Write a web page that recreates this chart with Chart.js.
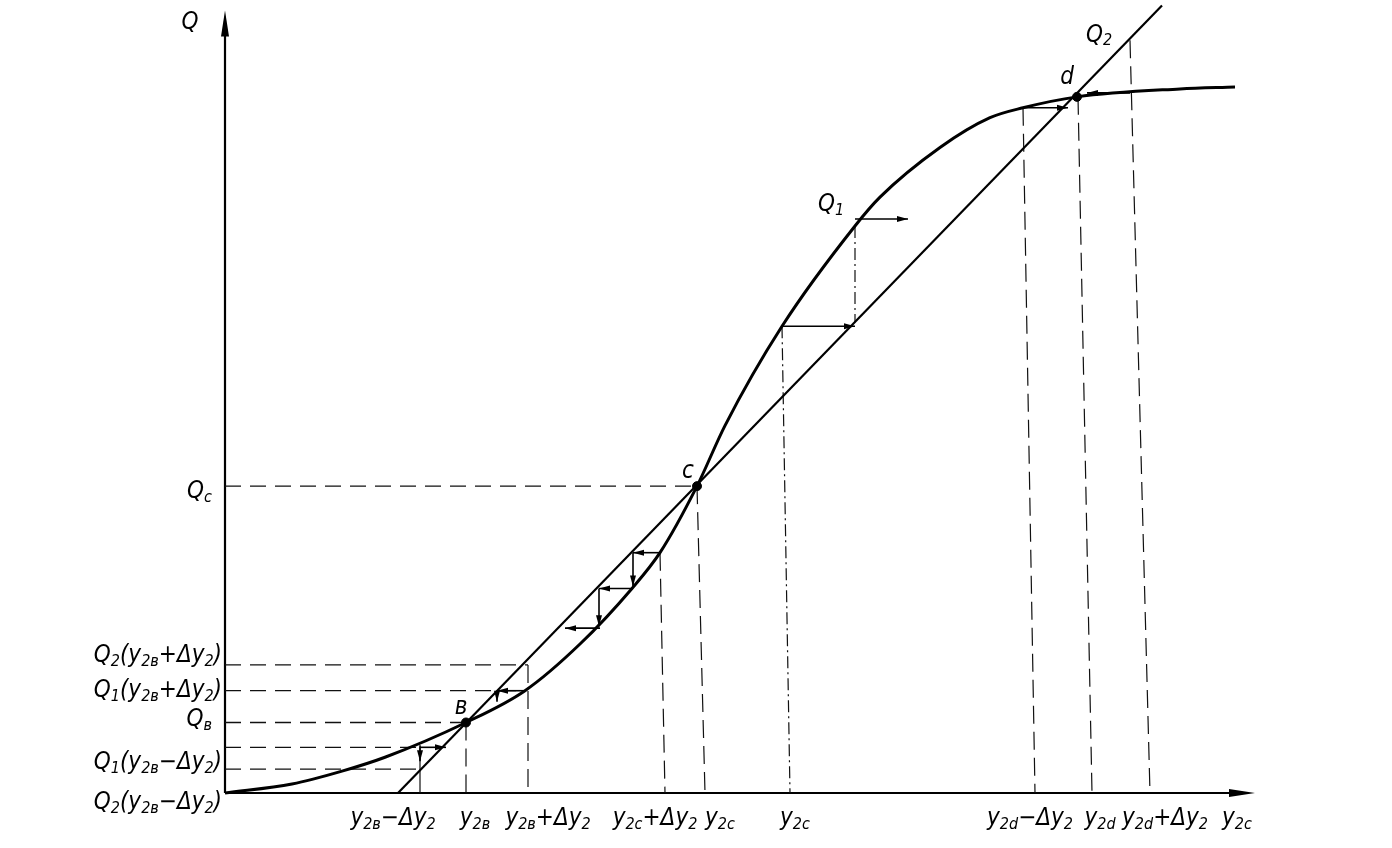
<!DOCTYPE html>
<html>
<head>
<meta charset="utf-8">
<script src="https://cdn.jsdelivr.net/npm/chart.js@4.4.1/dist/chart.umd.min.js"></script>
<style>
  body { margin: 0; background: #fff; }
  #wrap { width: 1392px; height: 848px; }
</style>
</head>
<body>
<div id="wrap"><canvas id="chart" width="1392" height="848"></canvas></div>
<script>
// curve Q1 (S-shaped)
const q1X = [0, 6.7, 11.7, 16, 24.1, 30, 35.5, 40.7, 43.5, 47.2, 50, 55.7, 63, 65.5, 71.5, 76.5, 79.8, 85.2, 95.5, 101];
const q1Y = [0, 0.9, 2.2, 3.6, 7.1, 10.3, 15.0, 20.6, 24.2, 30.9, 37.0, 47.0, 57.1, 60.0, 65.0, 68.0, 69.0, 70.1, 70.9, 71.1];
// straight line Q2
const q2X = [17.3, 93.7];
const q2Y = [0, 79.3];
// intersection points b, c, d
const crossX = [24.1, 47.2, 85.2];
const crossY = [7.1, 30.9, 70.1];

// guide lines [x0, y0, x1, y1]
const dashedH = [
  [0, 30.9, 47.2, 30.9],
  [0, 12.9, 30.3, 12.9],
  [0, 10.3, 30, 10.3],
  [0, 7.1, 24.1, 7.1],
  [0, 4.6, 19.5, 4.6],
  [0, 2.4, 19.5, 2.4]
];
const dashedV = [
  [24.1, 7.1, 24.1, 0],
  [30.3, 12.9, 30.3, 0],
  [43.5, 24.2, 44, 0],
  [47.2, 30.9, 48, 0],
  [79.8, 69.0, 81, 0],
  [85.3, 70.1, 86.7, 0],
  [90.5, 75.8, 92.5, 0]
];
const solidThin = [
  [19.5, 4.6, 19.5, 0]
];
const dashDot = [
  [55.7, 47.0, 56.5, 0],
  [63, 57.1, 63, 47.4]
];
// arrows [fromX, fromY, toX, toY]
const arrows = [
  [55.7, 47.0, 63, 47.0],
  [63, 57.8, 68.3, 57.8],
  [79.8, 69.0, 84.3, 69.0],
  [90.5, 70.5, 86.2, 70.5],
  [43.5, 24.2, 40.8, 24.2],
  [40.8, 24.2, 40.8, 20.8],
  [40.7, 20.6, 37.4, 20.6],
  [37.4, 20.6, 37.4, 16.8],
  [37.5, 16.6, 34, 16.6],
  [30, 10.3, 27.2, 10.3],
  [27.2, 10.3, 27.2, 9.2],
  [19.5, 4.6, 22.1, 4.6],
  [19.5, 4.8, 19.5, 3.2]
];

// tick labels on Q axis
const qTickVals = [77.6, 30.3, 13.8, 10.3, 7.4, 3.0, -1.0];
const qTickText = ['Q', 'Q_{c}', 'Q_{2}(y_{2в}+Δy_{2})', 'Q_{1}(y_{2в}+Δy_{2})', 'Q_{в}', 'Q_{1}(y_{2в}−Δy_{2})', 'Q_{2}(y_{2в}−Δy_{2})'];
// tick labels on y2c axis
const yTickVals = [16.8, 25, 32.3, 43, 49.5, 57, 80.5, 87.5, 94, 101.2];
const yTickText = ['y_{2в}−Δy_{2}', 'y_{2в}', 'y_{2в}+Δy_{2}', 'y_{2c}+Δy_{2}', 'y_{2c}', 'y_{2c}', 'y_{2d}−Δy_{2}', 'y_{2d}', 'y_{2d}+Δy_{2}', 'y_{2c}'];
// curve and point names
const noteX = [23.6, 46.3, 84.2, 60.6, 87.4];
const noteY = [8.6, 32.3, 72.0, 59.2, 76.3];
const noteText = ['в', 'c', 'd', 'Q_{1}', 'Q_{2}'];

const FONT = '"Liberation Sans Narrow", "DejaVu Sans Condensed", "Liberation Sans", sans-serif';

function parts(str) {
  const out = [];
  const re = /_\{([^}]*)\}|([^_]+)/g;
  let m;
  while ((m = re.exec(str)) !== null) {
    if (m[1] !== undefined) out.push([m[1], true]);
    else out.push([m[2], false]);
  }
  return out;
}

function richText(ctx, str, x, y, align) {
  const list = parts(str);
  let w = 0;
  list.forEach(p => {
    ctx.font = p[1] ? 'italic 16px ' + FONT : 'italic 24px ' + FONT;
    w += ctx.measureText(p[0]).width;
  });
  let cx = align === 'right' ? x - w : align === 'center' ? x - w / 2 : x;
  list.forEach(p => {
    ctx.font = p[1] ? 'italic 16px ' + FONT : 'italic 24px ' + FONT;
    ctx.fillText(p[0], cx, p[1] ? y + 6 : y);
    cx += ctx.measureText(p[0]).width;
  });
}

function head(ctx, x0, y0, x1, y1, len, wid) {
  const a = Math.atan2(y1 - y0, x1 - x0);
  ctx.beginPath();
  ctx.moveTo(x1, y1);
  ctx.lineTo(x1 - len * Math.cos(a) + wid * Math.sin(a), y1 - len * Math.sin(a) - wid * Math.cos(a));
  ctx.lineTo(x1 - len * Math.cos(a) - wid * Math.sin(a), y1 - len * Math.sin(a) + wid * Math.cos(a));
  ctx.closePath();
  ctx.fill();
}

function segs(list, width, dash) {
  return list.map(s => ({
    data: [{ x: s[0], y: s[1] }, { x: s[2], y: s[3] }],
    showLine: true,
    borderColor: '#111',
    borderWidth: width,
    borderDash: dash,
    pointRadius: 0
  }));
}

const sketch = {
  id: 'sketch',
  beforeDatasetsDraw(chart) {
    const ctx = chart.ctx;
    const xs = chart.scales.x, ys = chart.scales.y;
    const ox = xs.getPixelForValue(0), oy = ys.getPixelForValue(0);
    const tx = xs.getPixelForValue(103), ty = ys.getPixelForValue(78.8);
    ctx.save();
    ctx.strokeStyle = '#000';
    ctx.fillStyle = '#000';
    ctx.lineWidth = 2.2;
    ctx.beginPath();
    ctx.moveTo(ox, oy); ctx.lineTo(ox, ty + 10);
    ctx.moveTo(ox, oy); ctx.lineTo(tx - 10, oy);
    ctx.stroke();
    head(ctx, ox, oy, ox, ty, 26, 4);
    head(ctx, ox, oy, tx, oy, 26, 4);
    ctx.restore();
  },
  afterDatasetsDraw(chart) {
    const ctx = chart.ctx;
    const xs = chart.scales.x, ys = chart.scales.y;
    ctx.save();
    ctx.strokeStyle = '#000';
    ctx.fillStyle = '#000';
    ctx.lineWidth = 1.6;
    arrows.forEach(a => {
      const x0 = xs.getPixelForValue(a[0]), y0 = ys.getPixelForValue(a[1]);
      const x1 = xs.getPixelForValue(a[2]), y1 = ys.getPixelForValue(a[3]);
      ctx.beginPath(); ctx.moveTo(x0, y0); ctx.lineTo(x1, y1); ctx.stroke();
      head(ctx, x0, y0, x1, y1, 11, 3);
    });
    ctx.textBaseline = 'middle';
    const ox = xs.getPixelForValue(0);
    qTickVals.forEach((v, i) => {
      const y = ys.getPixelForValue(v);
      if (i === 0) richText(ctx, qTickText[i], ox - 35, y, 'center');
      else richText(ctx, qTickText[i], ox - 3 - (i === 1 || i === 4 ? 10 : 0), y, 'right');
    });
    const by = ys.getPixelForValue(0) + 26;
    yTickVals.forEach((v, i) => {
      richText(ctx, yTickText[i], xs.getPixelForValue(v), by, 'center');
    });
    noteX.forEach((v, i) => {
      richText(ctx, noteText[i], xs.getPixelForValue(v), ys.getPixelForValue(noteY[i]), 'center');
    });
    ctx.restore();
  }
};

const datasets = [
  {
    data: q1X.map((x, i) => ({ x: x, y: q1Y[i] })),
    showLine: true,
    borderColor: '#000',
    borderWidth: 3,
    cubicInterpolationMode: 'monotone',
    pointRadius: 0
  },
  {
    data: q2X.map((x, i) => ({ x: x, y: q2Y[i] })),
    showLine: true,
    borderColor: '#000',
    borderWidth: 2.2,
    pointRadius: 0
  },
  {
    data: crossX.map((x, i) => ({ x: x, y: crossY[i] })),
    showLine: false,
    pointRadius: 4.5,
    pointBackgroundColor: '#000',
    pointBorderColor: '#000'
  }
].concat(
  segs(dashedH, 1.3, [16, 9]),
  segs(dashedV, 1.2, [18, 8]),
  segs(solidThin, 1.2, []),
  segs(dashDot, 1.2, [12, 4, 2, 4])
);

new Chart(document.getElementById('chart'), {
  type: 'scatter',
  data: { datasets: datasets },
  options: {
    responsive: false,
    animation: false,
    layout: { padding: { left: 225, right: 137, top: 0, bottom: 55 } },
    plugins: { legend: { display: false }, tooltip: { enabled: false } },
    scales: {
      x: { type: 'linear', min: 0, max: 103, display: false },
      y: { type: 'linear', min: 0, max: 79.3, display: false }
    },
    clip: false
  },
  plugins: [sketch]
});
</script>
</body>
</html>
